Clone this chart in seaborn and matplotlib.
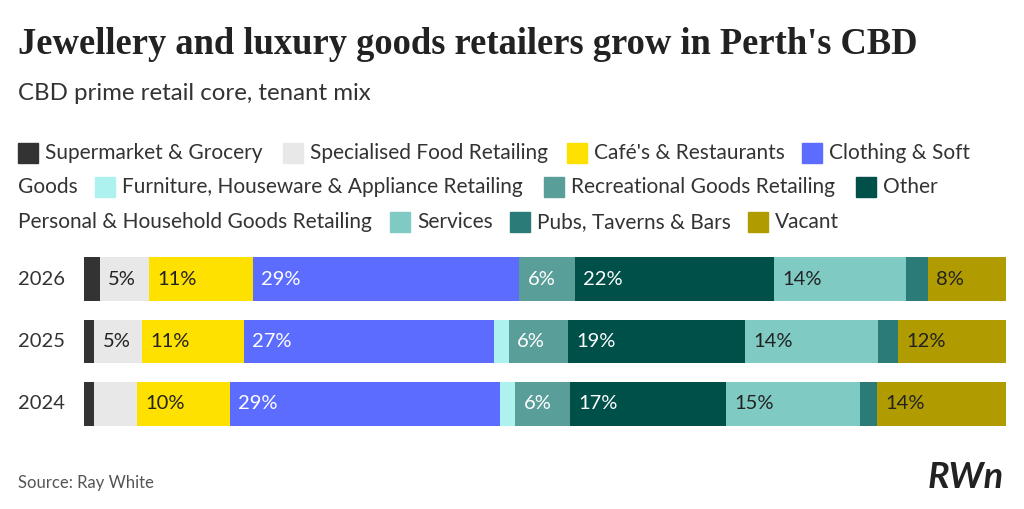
import matplotlib
matplotlib.use("Agg")
import matplotlib.pyplot as plt
import seaborn as sns
import pandas as pd
import numpy as np

years = ["2026", "2025", "2024"]
categories = ["Supermarket & Grocery", "Specialised Food Retailing", "Café's & Restaurants",
              "Clothing & Soft Goods", "Furniture, Houseware & Appliance Retailing",
              "Recreational Goods Retailing", "Other", "Services", "Pubs, Taverns & Bars", "Vacant"]
v2026 = [1.7, 5.4, 11.2, 28.9, 0.0, 6.0, 21.6, 14.4, 2.3, 8.5]
v2025 = [1.1, 5.2, 11.0, 27.2, 1.6, 6.4, 19.2, 14.4, 2.2, 11.7]
v2024 = [1.1, 4.7, 10.0, 29.3, 1.7, 5.9, 16.9, 14.6, 1.8, 14.0]
colors = ["#333333", "#e8e8e8", "#ffe100", "#5b6cff", "#aef2f0",
          "#5a9e9a", "#00504a", "#80cac4", "#2b7b78", "#b09c00"]
text_colors = ["white", "#222", "#222", "white", "#222", "white", "white", "#222", "white", "#222"]

sns.set_theme(style="white")
plt.rcParams['font.family'] = ['Lato', 'DejaVu Sans']

fig = plt.figure(figsize=(10.24, 5.09), dpi=100)
fig.patch.set_facecolor("white")
W, H = 1024, 509
ax = fig.add_axes([84 / W, 1 - 435 / H, 922 / W, (435 - 248) / H])

rows = [v2026, v2025, v2024]
df = pd.DataFrame(rows, columns=categories, index=years)
left = np.zeros(len(years))
for i, c in enumerate(categories):
    vals = df[c].values
    sns.barplot(x=vals, y=years, left=left, color=colors[i], orient="h", width=0.7,
                ax=ax, saturation=1, edgecolor="none")
    for j, v in enumerate(vals):
        if v >= 5:
            ax.text(left[j] + 0.9, j, f"{round(v):.0f}%", va="center", ha="left",
                    fontsize=14.5, color=text_colors[i])
    left = left + vals
ax.set_xlim(0, 100)
ax.set_ylim(2.5, -0.5)
ax.set_xlabel(""); ax.set_ylabel("")
ax.set_xticks([]); ax.set_yticks([])
for s in ax.spines.values():
    s.set_visible(False)
for j, y in enumerate(years):
    ax.text(-66 / 922 * 100, j, y, va="center", ha="left", fontsize=14.5, color="#333")

fig.text(18 / W, 1 - 45 / H, "Jewellery and luxury goods retailers grow in Perth's CBD",
         fontsize=26.3, fontweight="bold", family=["Liberation Serif", "DejaVu Serif"],
         color="#222", va="center")
fig.text(18 / W, 1 - 94 / H, "CBD prime retail core, tenant mix", fontsize=17.3,
         color="#333", va="center")

legend_rows = [
    (153, [(18, 0, "Supermarket & Grocery"), (283, 1, "Specialised Food Retailing"),
           (567, 2, "Café's & Restaurants"), (802, 3, "Clothing & Soft")]),
    (187, [(None, None, "Goods"), (95, 4, "Furniture, Houseware & Appliance Retailing"),
           (544, 5, "Recreational Goods Retailing"), (856, 6, "Other")]),
    (222, [(None, None, "Personal & Household Goods Retailing"), (390, 7, "Services"),
           (510, 8, "Pubs, Taverns & Bars"), (748, 9, "Vacant")]),
]
for ypx, items in legend_rows:
    for xpx, ci, label in items:
        if ci is None:
            fig.text(18 / W, 1 - ypx / H, label, fontsize=15, color="#333", va="center")
            continue
        fig.patches.append(plt.Rectangle((xpx / W, 1 - (ypx + 10) / H), 20 / W, 20 / H,
                                         transform=fig.transFigure, color=colors[ci]))
        fig.text((xpx + 27) / W, 1 - ypx / H, label, fontsize=15, color="#333", va="center")

fig.text(18 / W, 1 - 483 / H, "Source: Ray White", fontsize=12, color="#555", va="center")
fig.text(1004 / W, 1 - 477 / H, "RWn", fontsize=26, fontweight="bold", fontstyle="italic",
         color="#222", ha="right", va="center")

fig.savefig("out.png", dpi=100, facecolor="white")
